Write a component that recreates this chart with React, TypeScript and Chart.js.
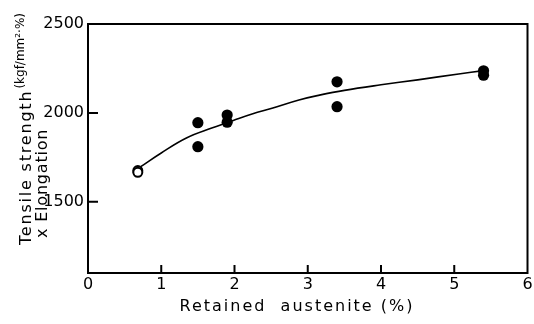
import React, { useEffect, useRef } from "react";
import { Chart, registerables } from "chart.js";

Chart.register(...registerables);

// Measured points (filled circles)
const austenite = [1.5, 1.5, 1.9, 1.9, 3.4, 3.4, 5.4, 5.4];
const product = [1945, 1810, 1988, 1948, 2175, 2035, 2237, 2212];

// Open-circle reference point
const refX = [0.68];
const refY = [1676];
const refYLow = [1666];

// Fitted curve
const curveX = [0.72, 1.0, 1.35, 1.7, 2.0, 2.25, 2.5, 2.88, 3.16, 3.5, 4.0, 4.5, 5.06, 5.4];
const curveY = [1698, 1775, 1860, 1916, 1960, 1995, 2025, 2073, 2100, 2127, 2158, 2186, 2219, 2238];

const yTickValues = [1500, 2000, 2500];
const xTickValues = [1, 2, 3, 4, 5];

const xTitle = "Retained  austenite (%)";
const yTitle1 = "Tensile strength";
const yTitleUnit = "(kgf/mm²·%)";
const yTitle2 = "x Elongation";

const FONT = "'DejaVu Sans', sans-serif";

const framePlugin = {
  id: "frame",
  afterDraw(chart: any) {
    const { ctx, chartArea: a, scales } = chart;
    ctx.save();
    ctx.strokeStyle = "#000";
    ctx.lineWidth = 2;
    ctx.strokeRect(a.left, a.top, a.right - a.left, a.bottom - a.top);
    ctx.lineWidth = 2;
    ctx.beginPath();
    yTickValues.forEach((v) => {
      const y = scales.y.getPixelForValue(v);
      ctx.moveTo(a.left, y);
      ctx.lineTo(a.left + 10, y);
    });
    xTickValues.forEach((v) => {
      const x = scales.x.getPixelForValue(v);
      ctx.moveTo(x, a.bottom);
      ctx.lineTo(x, a.bottom - 8);
    });
    ctx.stroke();

    ctx.fillStyle = "#000";
    // x title
    (ctx as any).letterSpacing = "2px";
    ctx.font = `16px ${FONT}`;
    ctx.textAlign = "center";
    ctx.textBaseline = "alphabetic";
    ctx.fillText(xTitle, 297, 311);

    // y title (rotated)
    ctx.save();
    ctx.translate(31, 245);
    ctx.rotate(-Math.PI / 2);
    ctx.textAlign = "left";
    ctx.font = `16px ${FONT}`;
    (ctx as any).letterSpacing = "1.8px";
    ctx.fillText(yTitle1, 0, 0);
    const w = ctx.measureText(yTitle1).width;
    ctx.font = `12px ${FONT}`;
    (ctx as any).letterSpacing = "0px";
    ctx.fillText(yTitleUnit, w + 1, -7);
    ctx.restore();

    ctx.save();
    ctx.translate(47, 238);
    ctx.rotate(-Math.PI / 2);
    ctx.textAlign = "left";
    (ctx as any).letterSpacing = "0.8px";
    ctx.font = `16px ${FONT}`;
    ctx.fillText(yTitle2, 0, 0);
    ctx.restore();

    ctx.restore();
  },
};

export default function App() {
  const ref = useRef<HTMLCanvasElement>(null);
  useEffect(() => {
    if (!ref.current) return;
    const chart = new Chart(ref.current, {
      type: "scatter",
      data: {
        datasets: [
          {
            type: "line",
            data: curveX.map((x, i) => ({ x, y: curveY[i] })),
            borderColor: "#000",
            borderWidth: 1.6,
            pointRadius: 0,
            tension: 0.4,
            fill: false,
          } as any,
          {
            data: austenite.map((x, i) => ({ x, y: product[i] })),
            backgroundColor: "#000",
            borderColor: "#000",
            pointRadius: 5.6,
            borderWidth: 0,
          },
          {
            data: refX.map((x, i) => ({ x, y: refYLow[i] })),
            backgroundColor: "#fff",
            borderColor: "#000",
            pointRadius: 4.5,
            borderWidth: 2,
          },
          {
            data: refX.map((x, i) => ({ x, y: refY[i] })),
            backgroundColor: "#fff",
            borderColor: "#000",
            pointRadius: 4.5,
            borderWidth: 2,
          },
          {
            data: refX.map((x, i) => ({ x, y: refY[i] })),
            backgroundColor: "#000",
            borderColor: "#000",
            pointRadius: 1.6,
            borderWidth: 0,
          },
        ],
      },
      options: {
        animation: false,
        responsive: false,
        layout: { padding: { left: 0, top: 24, right: 5, bottom: 0 } },
        plugins: { legend: { display: false }, tooltip: { enabled: false } },
        scales: {
          x: {
            type: "linear",
            min: 0,
            max: 6,
            ticks: {
              stepSize: 1,
              color: "#000",
              font: { family: FONT, size: 16 },
              padding: 2,
              callback: (v: any) => String(v),
            },
            grid: { display: false, drawTicks: false },
            border: { display: false },
            afterFit: (s: any) => {
              s.height = 51;
              s.paddingLeft = 0;
              s.paddingRight = 0;
            },
          },
          y: {
            type: "linear",
            min: 1100,
            max: 2500,
            ticks: {
              color: "#000",
              font: { family: FONT, size: 16 },
              padding: 4,
              callback: (v: any) => String(v),
            },
            afterBuildTicks: (s: any) => {
              s.ticks = yTickValues.map((v) => ({ value: v }));
            },
            grid: { display: false, drawTicks: false },
            border: { display: false },
            afterFit: (s: any) => {
              s.width = 88;
              s.paddingTop = 0;
              s.paddingBottom = 0;
            },
          },
        },
      },
      plugins: [framePlugin],
    });
    return () => chart.destroy();
  }, []);
  return (
    <div style={{ position: "fixed", left: 0, top: 0, width: 534, height: 324, background: "#fff" }}>
      <canvas ref={ref} width={534} height={324} style={{ display: "block" }} />
    </div>
  );
}
